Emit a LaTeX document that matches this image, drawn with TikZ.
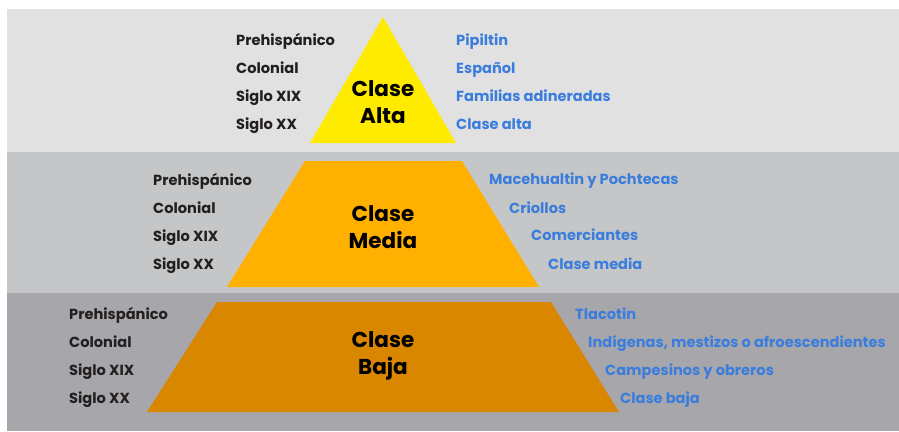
\documentclass[tikz,border=0pt]{standalone}
\usepackage{fontspec}
\setmainfont{Poppins}
\usetikzlibrary{positioning}
\definecolor{bandaAlta}{HTML}{E1E1E1}
\definecolor{bandaMedia}{HTML}{C5C6C7}
\definecolor{bandaBaja}{HTML}{A7A6AA}
\definecolor{amarillo}{HTML}{FFEB00}
\definecolor{naranja}{HTML}{FFB000}
\definecolor{ocre}{HTML}{D98600}
\definecolor{tinta}{HTML}{231F20}
\definecolor{azul}{HTML}{3B7DDD}
\tikzset{
x=1pt, y=-1pt, % one unit is one pixel of the picture
era/.style={anchor=base west, inner sep=0pt, text=tinta, font=\fontsize{14.6}{14.6}\selectfont\bfseries}, % left labels
grupo/.style={anchor=base west, inner sep=0pt, text=azul, font=\fontsize{14.6}{14.6}\selectfont\bfseries}, % right labels
clase/.style={align=center, inner sep=0pt, text=black, font=\fontsize{21.5}{26.5}\selectfont\bfseries}, % text in the pyramid
}
\begin{document}
\begin{tikzpicture}
            \useasboundingbox (0,0) rectangle (899,431);
            % bands
            \fill[bandaAlta] (7,9) rectangle (899,152);
            \fill[bandaMedia] (7,152) rectangle (899,293);
            \fill[bandaBaja] (7,293) rectangle (899,431);
            % pyramid
            \fill[amarillo] (383,17) -- (456,143) -- (310,143) -- cycle;
            \fill[naranja] (305,161) -- (462,161) -- (539,287) -- (227,287) -- cycle;
            \fill[ocre] (217,302) -- (551,302) -- (619,412) -- (147,412) -- cycle;
            \node[clase] (alta) at (383,102) {Clase\\Alta};
            \node[clase] (media) at (383,227) {Clase\\Media};
            \node[clase] (baja) at (383,356) {Clase\\Baja};
            % upper class
            \node[era] (a1) at (236,45) {Prehispánico};
            \node[era] (a2) at (236,73) {Colonial};
            \node[era] (a3) at (236,101) {Siglo XIX};
            \node[era] (a4) at (236,129) {Siglo XX};
            \node[grupo] (ga1) at (456,45) {Pipiltin};
            \node[grupo] (ga2) at (456,73) {Español};
            \node[grupo] (ga3) at (456,101) {Familias adineradas};
            \node[grupo] (ga4) at (456,129) {Clase alta};
            % middle class
            \node[era] (m1) at (153,185) {Prehispánico};
            \node[era] (m2) at (153,213) {Colonial};
            \node[era] (m3) at (153,241) {Siglo XIX};
            \node[era] (m4) at (153,269) {Siglo XX};
            \node[grupo] (gm1) at (489,184) {Macehualtin y Pochtecas};
            \node[grupo] (gm2) at (509,213) {Criollos};
            \node[grupo] (gm3) at (531,240) {Comerciantes};
            \node[grupo] (gm4) at (548,269) {Clase media};
            % lower class
            \node[era] (b1) at (69,319) {Prehispánico};
            \node[era] (b2) at (69,347) {Colonial};
            \node[era] (b3) at (69,375) {Siglo XIX};
            \node[era] (b4) at (69,403) {Siglo XX};
            \node[grupo] (gb1) at (575,319) {Tlacotin};
            \node[grupo] (gb2) at (588,347) {Indígenas, mestizos o afroescendientes};
            \node[grupo] (gb3) at (605,375) {Campesinos y obreros};
            \node[grupo] (gb4) at (620,403) {Clase baja};
\end{tikzpicture}
\end{document}
